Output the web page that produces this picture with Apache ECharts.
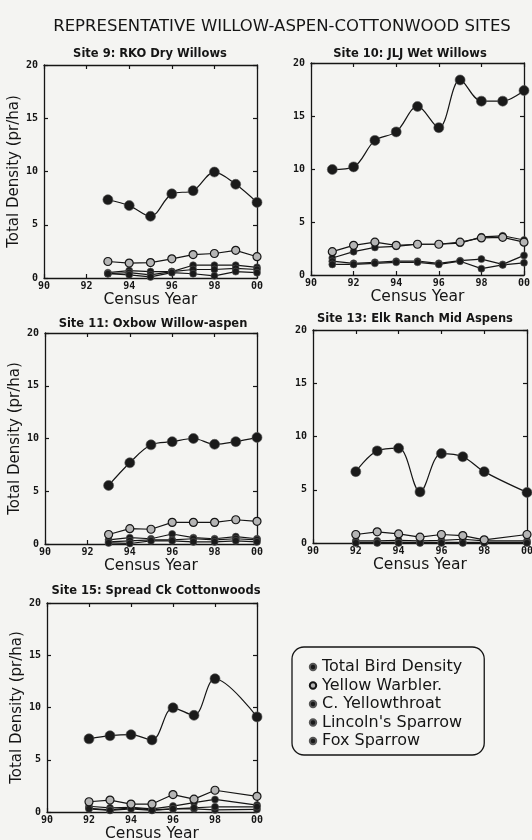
<!DOCTYPE html>
<html>
<head>
<meta charset="utf-8">
<script src="https://cdn.jsdelivr.net/npm/echarts@6/dist/echarts.min.js"></script>
<style>
html,body{margin:0;padding:0;background:#f4f4f2;}
#container{width:532px;height:840px;}
</style>
</head>
<body>
<div id="container"></div>
<script>
// Site 9: RKO Dry Willows
var years9 = [1993,1994,1995,1996,1997,1998,1999,2000];
var total9 = [7.35,6.8,5.8,7.9,8.2,9.95,8.8,7.1];
var warbler9 = [1.55,1.4,1.45,1.8,2.2,2.3,2.6,2.0];
var throat9 = [0.5,0.7,0.6,0.6,1.2,1.2,1.2,1.0];
var lincoln9 = [0.4,0.5,0.3,0.6,0.8,0.8,0.9,0.8];
var fox9 = [0.4,0.3,0.1,0.5,0.4,0.2,0.6,0.5];

// Site 10: JLJ Wet Willows
var years10 = [1991,1992,1993,1994,1995,1996,1997,1998,1999,2000];
var total10 = [9.95,10.2,12.7,13.5,15.9,13.9,18.4,16.4,16.4,17.4];
var warbler10 = [2.2,2.8,3.1,2.8,2.9,2.9,3.1,3.5,3.55,3.1];
var throat10 = [1.6,2.2,2.6,2.7,2.9,2.9,3.0,3.6,3.7,3.3];
var lincoln10 = [1.3,1.1,1.2,1.3,1.3,1.1,1.35,1.5,1.0,1.85];
var fox10 = [1.0,1.0,1.1,1.2,1.2,1.0,1.3,0.6,0.95,1.15];

// Site 11: Oxbow Willow-aspen
var years11 = [1993,1994,1995,1996,1997,1998,1999,2000];
var total11 = [5.55,7.7,9.4,9.7,10.0,9.45,9.7,10.1];
var warbler11 = [0.9,1.45,1.4,2.05,2.05,2.05,2.3,2.15];
var throat11 = [0.4,0.6,0.5,0.95,0.6,0.5,0.7,0.5];
var lincoln11 = [0.2,0.3,0.4,0.4,0.5,0.4,0.5,0.4];
var fox11 = [0.1,0.05,0.3,0.3,0.2,0.2,0.3,0.2];

// Site 13: Elk Ranch Mid Aspens
var years13 = [1992,1993,1994,1995,1996,1997,1998,2000];
var total13 = [6.7,8.65,8.9,4.8,8.4,8.1,6.7,4.75];
var warbler13 = [0.8,1.05,0.85,0.55,0.8,0.7,0.3,0.8];
var throat13 = [0.2,0.2,0.25,0.2,0.25,0.35,0.2,0.2];
var lincoln13 = [0.05,0.05,0.05,0.05,0.05,0.05,0.05,0.05];
var fox13 = [0,0,0,0,0,0,0,0];

// Site 15: Spread Ck Cottonwoods
var years15 = [1992,1993,1994,1995,1996,1997,1998,2000];
var total15 = [7.0,7.3,7.4,6.9,9.97,9.25,12.75,9.1];
var warbler15 = [0.98,1.14,0.76,0.76,1.67,1.23,2.08,1.5];
var throat15 = [0.55,0.4,0.45,0.3,0.57,0.9,1.2,0.66];
var lincoln15 = [0.35,0.2,0.4,0.2,0.3,0.3,0.2,0.25];
var fox15 = [0.3,0.15,0.3,0.15,0.3,0.4,0.5,0.5];

var seriesNames = ['Total Bird Density','Yellow Warbler.','C. Yellowthroat',"Lincoln's Sparrow",'Fox Sparrow'];

var sites = [
  {title:'Site 9: RKO Dry Willows', years:years9, vals:[total9,warbler9,throat9,lincoln9,fox9]},
  {title:'Site 10: JLJ Wet Willows', years:years10, vals:[total10,warbler10,throat10,lincoln10,fox10]},
  {title:'Site 11: Oxbow Willow-aspen', years:years11, vals:[total11,warbler11,throat11,lincoln11,fox11]},
  {title:'Site 13: Elk Ranch Mid Aspens', years:years13, vals:[total13,warbler13,throat13,lincoln13,fox13]},
  {title:'Site 15: Spread Ck Cottonwoods', years:years15, vals:[total15,warbler15,throat15,lincoln15,fox15]}
];

// layout
var boxes = [
  {left:44, top:65, width:213, height:213, tx:145, ty:43, yname:true},
  {left:311, top:63, width:213, height:212, tx:405, ty:43, yname:false},
  {left:45, top:333, width:212, height:211, tx:148, ty:313, yname:true},
  {left:313, top:330, width:214, height:213, tx:410, ty:308, yname:false},
  {left:47, top:603, width:210, height:209, tx:151, ty:580, yname:true}
];

var ink = '#151515';
var tickFont = {fontFamily:'DejaVu Sans Mono', fontWeight:'bold', fontSize:10, color:ink};
var symSizes = [10,8,7,7,7];

var grids = [], xAxes = [], yAxes = [], series = [];
var titles = [{
  text:'REPRESENTATIVE WILLOW-ASPEN-COTTONWOOD SITES',
  left:277, top:13, textAlign:'center',
  textStyle:{fontFamily:'DejaVu Sans', fontWeight:'normal', fontSize:16.5, color:ink}
}];

sites.forEach(function(s, i){
  var b = boxes[i];
  grids.push({left:b.left, top:b.top, width:b.width, height:b.height, show:false, outerBoundsMode:'none', containLabel:false});
  titles.push({
    text:s.title, left:b.tx, top:b.ty, textAlign:'center',
    textStyle:{fontFamily:'DejaVu Sans', fontWeight:'bold', fontSize:11.5, color:ink}
  });
  var axLine = {show:true, onZero:false, lineStyle:{color:ink, width:1.3}};
  var tick = {show:true, inside:true, length:4, lineStyle:{color:ink, width:1.2}};
  xAxes.push({
    type:'value', gridIndex:i, position:'bottom', min:1990, max:2000, interval:2,
    axisLine:axLine, axisTick:tick, splitLine:{show:false},
    axisLabel:Object.assign({margin:3, formatter:function(v){return String(v%100).padStart(2,'0');}}, tickFont),
    name:'Census Year', nameLocation:'middle', nameGap:13,
    nameTextStyle:{fontFamily:'DejaVu Sans', fontSize:15.5, color:ink}
  });
  xAxes.push({
    type:'value', gridIndex:i, position:'top', min:1990, max:2000, interval:2,
    axisLine:axLine, axisTick:tick, splitLine:{show:false}, axisLabel:{show:false}
  });
  yAxes.push({
    type:'value', gridIndex:i, position:'left', min:0, max:20, interval:5,
    axisLine:axLine, axisTick:tick, splitLine:{show:false},
    axisLabel:Object.assign({margin:6}, tickFont),
    name:b.yname ? 'Total Density (pr/ha)' : '', nameLocation:'middle', nameGap:20,
    nameTextStyle:{fontFamily:'DejaVu Sans', fontSize:15, color:ink}
  });
  yAxes.push({
    type:'value', gridIndex:i, position:'right', min:0, max:20, interval:5,
    axisLine:axLine, axisTick:tick, splitLine:{show:false}, axisLabel:{show:false}
  });
  s.vals.forEach(function(arr, k){
    var isWarbler = (k === 1);
    series.push({
      name:seriesNames[k], type:'line',
      xAxisIndex:2*i, yAxisIndex:2*i,
      data:s.years.map(function(y, j){ return [y, arr[j]]; }),
      smooth: k === 0 ? 0.35 : false,
      symbol:'circle', symbolSize:symSizes[k],
      lineStyle:{color:ink, width:1.2},
      itemStyle: isWarbler ? {color:'#b5b5b5', borderColor:ink, borderWidth:1.2}
                           : {color:'#1a1a1a', borderColor:'#555', borderWidth:0.6},
      z: k === 0 ? 5 : (isWarbler ? 4 : 3),
      animation:false
    });
  });
});

var chart = echarts.init(document.getElementById('container'));
chart.setOption({
  backgroundColor:'#f4f4f2',
  animation:false,
  title:titles,
  grid:grids,
  xAxis:xAxes,
  yAxis:yAxes,
  legend:{
    data:seriesNames, orient:'vertical', left:292, top:647,
    itemWidth:8, itemHeight:8, itemGap:2.5,
    padding:[12,22,6,16],
    borderColor:ink, borderWidth:1.3, borderRadius:12,
    selectedMode:false,
    textStyle:{fontFamily:'DejaVu Sans', fontSize:16, color:ink, lineHeight:16}
  },
  series:series
});
</script>
</body>
</html>
